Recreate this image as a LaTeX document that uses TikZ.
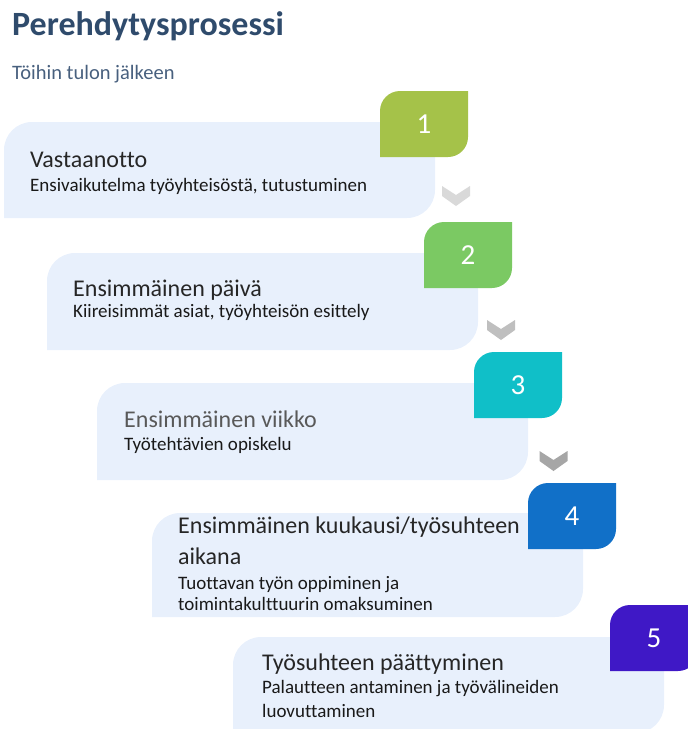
\documentclass[tikz,border=0pt]{standalone}
\usepackage{fontspec}
\setmainfont{Carlito}[Ligatures=NoCommon]
\usepackage{tikz}

\definecolor{titleblue}{HTML}{2F4B6C}
\definecolor{subblue}{HTML}{48607E}
\definecolor{boxfill}{HTML}{E8F0FC}
\definecolor{tabone}{HTML}{A5C249}
\definecolor{tabtwo}{HTML}{7BC963}
\definecolor{tabthree}{HTML}{10BFC8}
\definecolor{tabfour}{HTML}{1170C8}
\definecolor{tabfive}{HTML}{3F18C6}
\definecolor{chevone}{HTML}{D9D9D9}
\definecolor{chevtwo}{HTML}{BFBFBF}
\definecolor{chevthree}{HTML}{A6A6A6}

\tikzset{
  headtext/.style={anchor=base west,inner sep=0pt,font=\fontsize{24}{28}\selectfont,text=black!85},
  desctext/.style={anchor=base west,inner sep=0pt,font=\fontsize{19}{22}\selectfont,text=black!90},
  numtext/.style={inner sep=0pt,text=white,font=\fontsize{29}{32}\selectfont}
}

\begin{document}
\begin{tikzpicture}[x=1pt,y=-1pt]
            \useasboundingbox (0,0) rectangle (688,729);
            \clip (0,0) rectangle (688,729);

            \node[anchor=base west,inner sep=0pt,font=\bfseries\fontsize{34}{40}\selectfont,text=titleblue] (title) at (12,35) {Perehdytysprosessi};
            \node[anchor=base west,inner sep=0pt,font=\fontsize{20.5}{24}\selectfont,text=subblue] (subtitle) at (12,79) {Töihin tulon jälkeen};

            \foreach \bx/\by/\bh in {4/122/96, 47/253/97, 97/383/97, 152/513/104, 233/637/96}
                \fill[boxfill] (\bx,\by+\bh) -- (\bx,\by+28) arc (180:270:28) -- (\bx+431,\by) -- (\bx+431,\by+\bh-28) arc (0:90:28) -- cycle;

            \foreach \cx/\cy/\col in {456/186/chevone, 501/320/chevtwo, 553.5/451/chevthree}
                \fill[\col] (\cx-14,\cy) -- (\cx,\cy+9) -- (\cx+14,\cy) -- (\cx+14,\cy+10) -- (\cx,\cy+20) -- (\cx-14,\cy+10) -- cycle;

            \foreach \tx/\ty/\col/\n in {380/91/tabone/1, 424/222/tabtwo/2, 474/352/tabthree/3, 528/483/tabfour/4, 610/605/tabfive/5} {
                \fill[\col] (\tx,\ty+66) -- (\tx,\ty+20) arc (180:270:20) -- (\tx+88,\ty) -- (\tx+88,\ty+46) arc (0:90:20) -- cycle;
                \node[numtext] (num\n) at (\tx+44,\ty+33) {\n};
            }

            \node[headtext] (head1) at (30,167) {Vastaanotto};
            \node[desctext] (desc1) at (30,191) {Ensivaikutelma työyhteisöstä, tutustuminen};

            \node[headtext] (head2) at (73,296) {Ensimmäinen päivä};
            \node[desctext] (desc2) at (73,317) {Kiireisimmät asiat, työyhteisön esittely};

            \node[headtext,text=black!65] (head3) at (124,427) {Ensimmäinen viikko};
            \node[desctext] (desc3) at (124,450) {Työtehtävien opiskelu};

            \node[headtext] (head4a) at (178,533) {Ensimmäinen kuukausi/työsuhteen};
            \node[headtext] (head4b) at (178,564) {aikana};
            \node[desctext] (desc4a) at (178,589) {Tuottavan työn oppiminen ja};
            \node[desctext] (desc4b) at (178,610) {toimintakulttuurin omaksuminen};

            \node[headtext] (head5) at (262,670) {Työsuhteen päättyminen};
            \node[desctext] (desc5a) at (262,693) {Palautteen antaminen ja työvälineiden};
            \node[desctext] (desc5b) at (262,717) {luovuttaminen};

        \end{tikzpicture}
\end{document}
